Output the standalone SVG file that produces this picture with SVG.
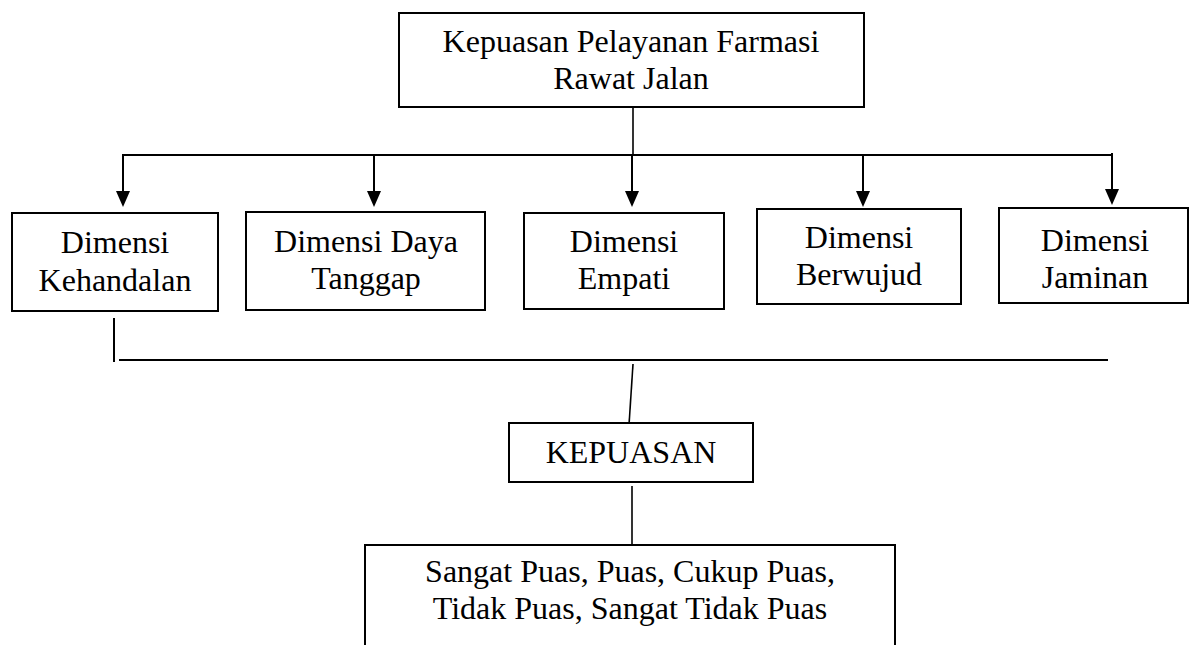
<svg xmlns="http://www.w3.org/2000/svg" width="1190" height="645" viewBox="0 0 1190 645">
  <style>
    .box { fill: #ffffff; stroke: #000000; stroke-width: 2; }
    .lbl { font-family: "Liberation Serif", "Times New Roman", serif; font-size: 32px; fill: #000000; text-anchor: middle; }
    .ln { stroke: #000000; stroke-width: 2; fill: none; }
    .thin { stroke: #000000; stroke-width: 1.6; fill: none; }
    .head { fill: #000000; }
  </style>
  <rect x="0" y="0" width="1190" height="645" fill="#ffffff"/>

  <g id="connectors">
    <line class="thin" x1="633" y1="107" x2="633" y2="155"/>
    <line class="ln" x1="122" y1="155" x2="1113" y2="155"/>
    <path d="M123,155 L123,192" class="ln"/>
    <polygon class="head" points="116,191 130,191 123,207"/>
    <path d="M374,155 L374,192" class="ln"/>
    <polygon class="head" points="367,191 381,191 374,207"/>
    <path d="M632,155 L632,192" class="ln"/>
    <polygon class="head" points="625,191 639,191 632,207"/>
    <path d="M863,155 L863,192" class="ln"/>
    <polygon class="head" points="856,191 870,191 863,207"/>
    <path d="M1112,153 L1112,190" class="ln"/>
    <polygon class="head" points="1105,189 1119,189 1112,205"/>
    <line class="ln" x1="114" y1="318" x2="114" y2="362"/>
    <line class="ln" x1="119" y1="360" x2="1108" y2="360"/>
    <line class="thin" x1="633" y1="364" x2="629" y2="425"/>
    <line class="thin" x1="632" y1="486" x2="632" y2="545"/>
  </g>

  <g id="top">
    <rect class="box" x="399" y="13" width="465" height="94"/>
    <text class="lbl" x="631" y="52">Kepuasan Pelayanan Farmasi</text>
    <text class="lbl" x="631" y="89">Rawat Jalan</text>
  </g>

  <g id="kehandalan">
    <rect class="box" x="12" y="213" width="206" height="98"/>
    <text class="lbl" x="115" y="253">Dimensi</text>
    <text class="lbl" x="115" y="291">Kehandalan</text>
  </g>

  <g id="dayatanggap">
    <rect class="box" x="246" y="212" width="239" height="98"/>
    <text class="lbl" x="366" y="252">Dimensi Daya</text>
    <text class="lbl" x="366" y="289">Tanggap</text>
  </g>

  <g id="empati">
    <rect class="box" x="524" y="213" width="200" height="96"/>
    <text class="lbl" x="624" y="252">Dimensi</text>
    <text class="lbl" x="624" y="289">Empati</text>
  </g>

  <g id="berwujud">
    <rect class="box" x="757" y="209" width="204" height="95"/>
    <text class="lbl" x="859" y="248">Dimensi</text>
    <text class="lbl" x="859" y="285">Berwujud</text>
  </g>

  <g id="jaminan">
    <rect class="box" x="999" y="208" width="189" height="95"/>
    <text class="lbl" x="1095" y="251">Dimensi</text>
    <text class="lbl" x="1095" y="288">Jaminan</text>
  </g>

  <g id="kepuasan">
    <rect class="box" x="509" y="423" width="244" height="59"/>
    <text class="lbl" x="631" y="463">KEPUASAN</text>
  </g>

  <g id="tingkat">
    <rect class="box" x="365" y="545" width="530" height="120"/>
    <text class="lbl" x="630" y="582">Sangat Puas, Puas, Cukup Puas,</text>
    <text class="lbl" x="630" y="619">Tidak Puas, Sangat Tidak Puas</text>
  </g>
</svg>
